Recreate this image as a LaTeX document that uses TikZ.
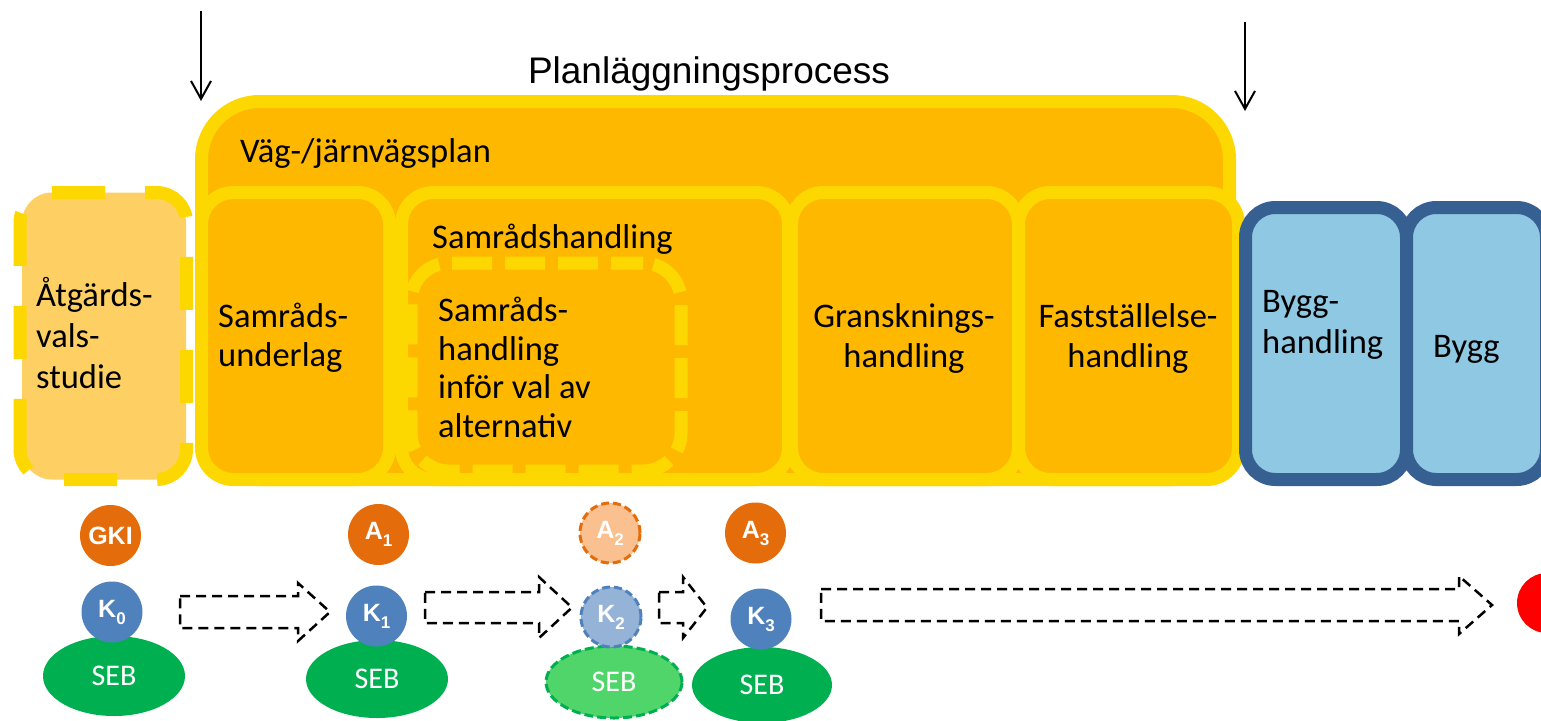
\documentclass[tikz,border=0pt]{standalone}
\usepackage{fontspec}
\setmainfont{Carlito}
\newfontfamily\arialf{Liberation Sans}
\usetikzlibrary{shapes.geometric,arrows.meta}
\definecolor{yS}{RGB}{253,216,0}
\definecolor{oF}{RGB}{255,184,0}
\definecolor{aF}{RGB}{254,208,100}
\definecolor{bS}{RGB}{55,96,146}
\definecolor{bF}{RGB}{142,200,226}
\definecolor{cOr}{RGB}{228,108,10}
\definecolor{cOrL}{RGB}{250,192,144}
\definecolor{cBl}{RGB}{79,129,189}
\definecolor{cBlL}{RGB}{149,179,215}
\definecolor{cGr}{RGB}{0,176,80}
\definecolor{cGrL}{RGB}{80,213,106}
\definecolor{cRd}{RGB}{255,0,0}
\newcommand\sublbl[2]{#1\raisebox{-0.28em}{\fontsize{17}{17}\selectfont #2}}
\begin{document}
\begin{tikzpicture}[x=1pt,y=-1pt,
  boxbase/.style={rectangle, inner sep=0pt, line width=13pt},
  ybox/.style={boxbase, rounded corners=32pt, draw=yS, fill=oF},
  bbox/.style={boxbase, rounded corners=30pt, draw=bS, fill=bF},
  avsedge/.style={draw=yS, line width=13pt, rounded corners=30pt},
  txt/.style={inner sep=0pt, font=\fontsize{34.5}{40}\selectfont, align=left},
  ctxt/.style={inner sep=0pt, font=\fontsize{34.5}{40}\selectfont, align=center},
  varrow/.style={line width=2pt, -{Straight Barb[length=18pt,width=20pt]}},
  barrow/.style={line width=2.5pt, dash pattern=on 10pt off 6pt},
  circ/.style={circle, minimum size=61pt, inner sep=0pt, text=white, font=\arialf\bfseries\fontsize{25}{25}\selectfont},
  seb/.style={ellipse, inner sep=0pt, text=white, fill=cGr, font=\fontsize{30}{30}\selectfont},
]
\useasboundingbox (0,0) rectangle (1541,720);

% big box
\node[ybox, rounded corners=58pt, minimum width=1028pt, minimum height=378pt] (vj) at (715.5,290.5) {};
% sub boxes
\node[ybox, minimum width=188pt, minimum height=287pt] (su) at (295.5,336) {};
\node[ybox, minimum width=387pt, minimum height=287pt] (sh) at (595,336) {};
\node[ybox, minimum width=227pt, minimum height=287pt] (gh) at (905,336) {};
\node[ybox, minimum width=220pt, minimum height=287pt] (fh) at (1128.5,336) {};
% dashed inner box
\node[boxbase, rounded corners=38pt, draw=yS, fill=oF, dash pattern=on 40pt off 13pt, dash phase=8pt, minimum width=270pt, minimum height=208pt] (shi) at (546,367) {};
% Atgards box: fill, then dashed border in two runs
\node[rectangle, inner sep=0pt, rounded corners=30pt, fill=aF, minimum width=164pt, minimum height=287pt] (avs) at (104,336) {};
\draw[avsedge, dash pattern=on 53pt off 40pt] (52,192.5) -- (186.5,192.5) -- (186.5,479.5) -- (50,479.5);
\draw[avsedge, dash pattern=on 73.6pt off 40pt on 53pt off 40pt on 53pt off 84pt, dash phase=319.6pt] (50,479.5) -- (20,479.5) -- (20,192.5) -- (52,192.5);
% blue boxes
\node[bbox, minimum width=161pt, minimum height=272pt] (bh) at (1326,343.5) {};
\node[bbox, minimum width=140pt, minimum height=272pt] (bg) at (1476.5,343.5) {};

% texts (base anchor = baseline of the last line)
\node[inner sep=0pt, font=\arialf\fontsize{37}{37}\selectfont, anchor=base] (plp) at (709,83) {Planläggningsprocess};
\node[txt, anchor=base west] (vjt) at (240,162) {Väg-/järnvägsplan};
\node[txt, anchor=base west] (sht) at (432,248) {Samrådshandling};
\node[txt, anchor=base west, font=\fontsize{34.5}{41}\selectfont] (avst) at (36,388) {Åtgärds-\\vals-\\studie};
\node[txt, anchor=base west, font=\fontsize{34.5}{39}\selectfont] (sut) at (218,366) {Samråds-\\underlag};
\node[txt, anchor=base west, font=\fontsize{34.5}{38.5}\selectfont] (shit) at (438,437) {Samråds-\\handling\\inför val av\\alternativ};
\node[ctxt, anchor=base] (ght) at (904,367) {Gransknings-\\handling};
\node[ctxt, anchor=base] (fht) at (1128,367) {Fastställelse-\\handling};
\node[txt, anchor=base west, font=\fontsize{34.5}{41}\selectfont] (bht) at (1262,353) {Bygg-\\handling};
\node[txt, anchor=base west] (bgt) at (1433,357) {Bygg};

% vertical arrows
\coordinate (t1) at (201,11);
\coordinate (h1) at (201,101);
\coordinate (t2) at (1245,22);
\coordinate (h2) at (1245,111);
\draw[varrow] (t1) -- (h1);
\draw[varrow] (t2) -- (h2);

% bottom circles
\node[seb, minimum width=142pt, minimum height=80pt] (seb0) at (114,676) {SEB};
\node[circ, fill=cOr] (gki) at (110.5,535.5) {GKI};
\node[circ, fill=cBl] (k0) at (112,612) {\sublbl{K}{0}};

\node[seb, minimum width=142pt, minimum height=78pt] (seb1) at (377,679) {SEB};
\node[circ, fill=cOr] (a1) at (378.5,534.5) {\sublbl{A}{1}};
\node[circ, fill=cBl] (k1) at (376.5,616) {\sublbl{K}{1}};

\node[seb, fill=cGrL, draw=cGr, line width=3pt, dash pattern=on 9pt off 4pt, minimum width=136pt, minimum height=72pt] (seb2) at (614,682) {SEB};
\node[circ, fill=cOrL, draw=cOr, line width=3pt, dash pattern=on 8pt off 4pt, minimum size=60pt] (a2) at (610,533) {\sublbl{A}{2}};
\node[circ, fill=cBlL, draw=cBl, line width=3pt, dash pattern=on 8pt off 4pt, minimum size=60pt] (k2) at (611,617) {\sublbl{K}{2}};

\node[seb, minimum width=140pt, minimum height=76pt] (seb3) at (762,685) {SEB};
\node[circ, fill=cOr] (a3) at (755.5,533) {\sublbl{A}{3}};
\node[circ, fill=cBl] (k3) at (761,619) {\sublbl{K}{3}};

\node[circle, fill=cRd, minimum size=60pt, inner sep=0pt] (red) at (1547,603) {};

% dashed block arrows
\draw[barrow] (180,596) -- (298,596) -- (298,583) -- (330,612) -- (298,641) -- (298,628) -- (180,628) -- cycle;
\draw[barrow] (425,592) -- (539,592) -- (539,577) -- (572,607.5) -- (539,638) -- (539,623) -- (425,623) -- cycle;
\draw[barrow] (659,592) -- (683,592) -- (683,577) -- (707,607.5) -- (683,638) -- (683,623) -- (659,623) -- cycle;
\draw[barrow] (821,589) -- (1459,589) -- (1459,576) -- (1492,605) -- (1459,634) -- (1459,621) -- (821,621) -- cycle;
\end{tikzpicture}
\end{document}
